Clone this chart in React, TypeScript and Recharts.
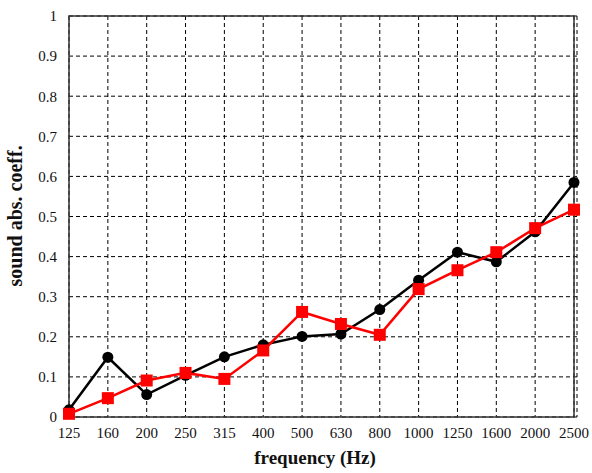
import { CartesianGrid, Line, LineChart, ReferenceArea, XAxis, YAxis } from "recharts";

const frequencies = ["125", "160", "200", "250", "315", "400", "500", "630", "800", "1000", "1250", "1600", "2000", "2500"];
const blackSeries = [0.018, 0.149, 0.056, 0.104, 0.15, 0.18, 0.201, 0.207, 0.268, 0.341, 0.411, 0.387, 0.462, 0.585];
const redSeries = [0.008, 0.047, 0.091, 0.11, 0.095, 0.166, 0.262, 0.232, 0.205, 0.319, 0.366, 0.411, 0.471, 0.517];
const yTicks = [0, 0.1, 0.2, 0.3, 0.4, 0.5, 0.6, 0.7, 0.8, 0.9, 1];

const data = frequencies.map((f, i) => ({ freq: f, black: blackSeries[i], red: redSeries[i] }));

const font = "'Liberation Serif', 'Times New Roman', serif";

function SquareDot(props: any) {
  const { cx, cy } = props;
  if (cx == null || cy == null) return null;
  return <rect x={cx - 6} y={cy - 6} width={12} height={12} fill="#ff0000" />;
}

export default function App() {
  return (
    <div style={{ position: "absolute", left: 0, top: 0, background: "#fff", fontFamily: font }}>
      <LineChart
        width={592}
        height={473}
        data={data}
        style={{ fontFamily: font }}
        margin={{ top: 16, right: 15, left: 29, bottom: 0 }}
      >
        <CartesianGrid stroke="#000" strokeDasharray="4 3" strokeWidth={1} />
        <ReferenceArea y1={0} y2={1} fill="none" stroke="#333" strokeWidth={1.5} ifOverflow="visible" />
        <XAxis
          dataKey="freq"
          height={56}
          padding={{ left: 0, right: 3 }}
          tickLine={false}
          axisLine={false}
          tickMargin={4}
          interval={0}
          tick={{ fontSize: 15, fill: "#111", fontFamily: font }}
          label={{
            value: "frequency (Hz)",
            position: "insideBottom",
            offset: 9,
            dx: -8,
            style: { fontSize: 19, fontWeight: "bold", fill: "#111", fontFamily: font },
          }}
        />
        <YAxis
          type="number"
          domain={[0, 1]}
          ticks={yTicks}
          width={40}
          tickLine={false}
          axisLine={false}
          tickMargin={6}
          tickFormatter={(v: number) => String(Math.round(v * 10) / 10)}
          tick={{ fontSize: 15, fill: "#111", fontFamily: font }}
          label={{
            value: "sound abs. coeff.",
            angle: -90,
            position: "insideLeft",
            offset: -14,
            dy: 70,
            style: { fontSize: 20, fontWeight: "bold", fill: "#111", fontFamily: font },
          }}
        />
        <Line
          dataKey="black"
          stroke="#000"
          strokeWidth={2.5}
          dot={{ r: 5.5, fill: "#000", stroke: "#000", strokeWidth: 0 }}
          activeDot={false}
          isAnimationActive={false}
        />
        <Line
          dataKey="red"
          stroke="#ff0000"
          strokeWidth={2.5}
          dot={<SquareDot />}
          activeDot={false}
          isAnimationActive={false}
        />
      </LineChart>
    </div>
  );
}
